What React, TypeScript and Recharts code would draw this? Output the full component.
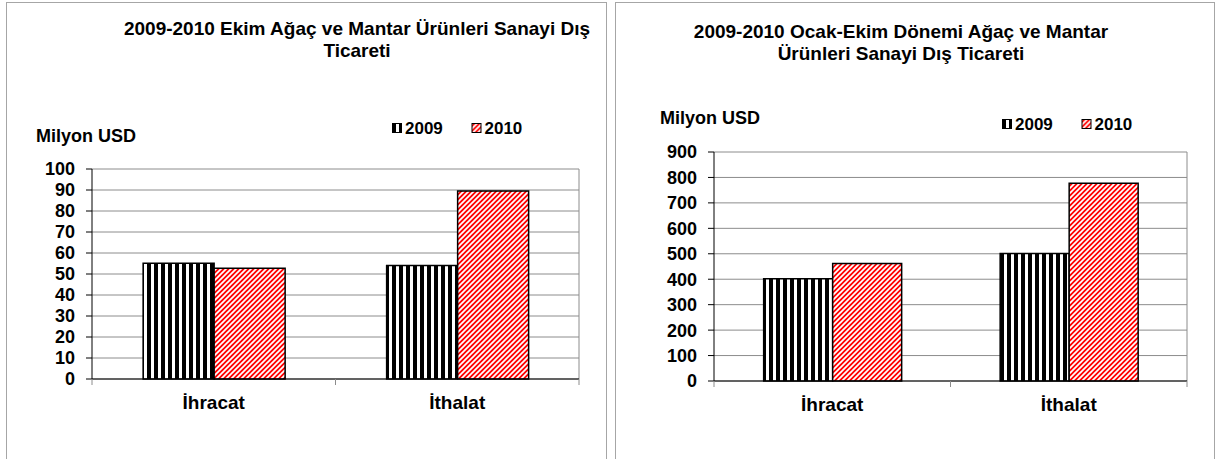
import { BarChart, Bar, XAxis, YAxis, CartesianGrid } from "recharts";

const categories = ["İhracat", "İthalat"];
const seriesNames = ["2009", "2010"];

// Ekim (October) values, million USD
const octValues2009 = [55.1, 54.1];
const octValues2010 = [52.7, 89.5];
const octTicks = [0, 10, 20, 30, 40, 50, 60, 70, 80, 90, 100];
const octTitle = ["2009-2010 Ekim Ağaç ve Mantar Ürünleri Sanayi Dış", "Ticareti"];

// Ocak-Ekim (Jan-Oct) values, million USD
const ytdValues2009 = [402, 501];
const ytdValues2010 = [462, 777];
const ytdTicks = [0, 100, 200, 300, 400, 500, 600, 700, 800, 900];
const ytdTitle = ["2009-2010 Ocak-Ekim Dönemi Ağaç ve Mantar", "Ürünleri Sanayi Dış Ticareti"];

const unitLabel = "Milyon USD";

const FONT = "'Liberation Sans', Arial, sans-serif";
const GRID = "#8c8c8c";
const W = 608;
const H = 459;
const CAT_MARGIN = 17;

// category label plus the small tick marks at the band edges
function CategoryTick(props: any) {
  const { x, y, payload, index, visibleTicksCount } = props;
  const axisY = y - CAT_MARGIN;
  const half = payload?.offset ?? 0;
  return (
    <g>
      {half > 0 && <line x1={x - half} x2={x - half} y1={axisY} y2={axisY + 6} stroke={GRID} />}
      {half > 0 && index === visibleTicksCount - 1 && (
        <line x1={x + half} x2={x + half} y1={axisY} y2={axisY + 6} stroke={GRID} />
      )}
      <text x={x} y={y} dy="0.71em" textAnchor="middle" fill="#000" fontSize={19} fontWeight="bold">
        {payload.value}
      </text>
    </g>
  );
}

// only the right border of the plot area as a vertical line
const rightEdge = ({ offset }: any) => [offset.left + offset.width];

interface PanelProps {
  x: number;
  values2009: number[];
  values2010: number[];
  ticks: number[];
  title: string[];
  plot: { left: number; right: number; top: number; bottom: number };
  titleX: number;
  titleY: number;
  unitPos: { x: number; y: number };
  legendPos: { x: number; y: number };
}

function Panel({ x, values2009, values2010, ticks, title, plot, titleX, titleY, unitPos, legendPos }: PanelProps) {
  const data = categories.map((c, i) => ({ name: c, v2009: values2009[i], v2010: values2010[i] }));
  const yWidth = 60;
  const fills = ["url(#vstripes)", "url(#dstripes)"];

  return (
    <div style={{ position: "absolute", left: x, top: 0, width: W, height: H }}>
      <BarChart
        width={W}
        height={H}
        data={data}
        barCategoryGap="21%"
        barGap={0}
        margin={{
          top: plot.top,
          right: W - plot.right,
          left: plot.left - yWidth,
          bottom: H - plot.bottom - 30,
        }}
      >
        <CartesianGrid stroke={GRID} verticalCoordinatesGenerator={rightEdge} />
        <XAxis
          dataKey="name"
          tickLine={false}
          tickSize={0}
          tickMargin={CAT_MARGIN}
          axisLine={{ stroke: "#000" }}
          interval={0}
          height={30}
          tick={<CategoryTick />}
        />
        <YAxis
          width={yWidth}
          domain={[0, ticks[ticks.length - 1]]}
          ticks={ticks}
          interval={0}
          tickSize={6}
          tickMargin={11}
          axisLine={{ stroke: "#000" }}
          tickLine={{ stroke: "#000" }}
          tick={{ fill: "#000", fontSize: 18, fontWeight: "bold" }}
        />
        <Bar dataKey="v2009" name={seriesNames[0]} fill={fills[0]} stroke="#000" strokeWidth={1.5} isAnimationActive={false} />
        <Bar dataKey="v2010" name={seriesNames[1]} fill={fills[1]} stroke="#000" strokeWidth={1.5} isAnimationActive={false} />
      </BarChart>
      <svg
        width={W}
        height={H}
        style={{ position: "absolute", left: 0, top: 0, pointerEvents: "none", fontFamily: FONT, fontWeight: "bold" }}
      >
        {title.map((t, i) => (
          <text key={t} x={titleX} y={titleY + i * 22} textAnchor="middle" fontSize={19}>
            {t}
          </text>
        ))}
        <text x={unitPos.x} y={unitPos.y} fontSize={18}>
          {unitLabel}
        </text>
        {seriesNames.map((s, i) => (
          <g key={s} transform={`translate(${legendPos.x + i * 79.5},${legendPos.y})`}>
            <rect x={0.5} y={-10.5} width={9} height={9} fill={fills[i]} stroke="#000" strokeWidth={1} />
            <text x={13} y={0} fontSize={17}>
              {s}
            </text>
          </g>
        ))}
      </svg>
    </div>
  );
}

export default function App() {
  return (
    <div style={{ position: "absolute", left: 0, top: 0, width: 1216, height: 459, overflow: "hidden", background: "#fff", fontFamily: FONT }}>
      <svg width={0} height={0} style={{ position: "absolute" }}>
        <defs>
          <pattern id="vstripes" patternUnits="userSpaceOnUse" width={7} height={7}>
            <rect width={7} height={7} fill="#fff" />
            <rect width={4} height={7} fill="#000" />
          </pattern>
          <pattern id="dstripes" patternUnits="userSpaceOnUse" width={5} height={5}>
            <rect width={5} height={5} fill="#ff0000" />
            <path d="M-1,1 L1,-1 M0,5 L5,0 M4,6 L6,4" stroke="#fff" strokeWidth={1.7} />
          </pattern>
        </defs>
      </svg>
      <div style={{ position: "absolute", left: 6, top: 2, width: 601, height: 457, boxSizing: "border-box", border: "1px solid #a6a6a6", borderBottom: "none" }} />
      <div style={{ position: "absolute", left: 615, top: 2, width: 600, height: 457, boxSizing: "border-box", border: "1px solid #a6a6a6", borderBottom: "none" }} />
      <Panel
        x={0}
        values2009={octValues2009}
        values2010={octValues2010}
        ticks={octTicks}
        title={octTitle}
        plot={{ left: 92, right: 579, top: 169, bottom: 379 }}
        titleX={357}
        titleY={35}
        unitPos={{ x: 36, y: 142 }}
        legendPos={{ x: 392, y: 134 }}
      />
      <Panel
        x={608}
        values2009={ytdValues2009}
        values2010={ytdValues2010}
        ticks={ytdTicks}
        title={ytdTitle}
        plot={{ left: 106, right: 579, top: 152, bottom: 381 }}
        titleX={293}
        titleY={38}
        unitPos={{ x: 52, y: 124 }}
        legendPos={{ x: 394, y: 130 }}
      />
    </div>
  );
}
